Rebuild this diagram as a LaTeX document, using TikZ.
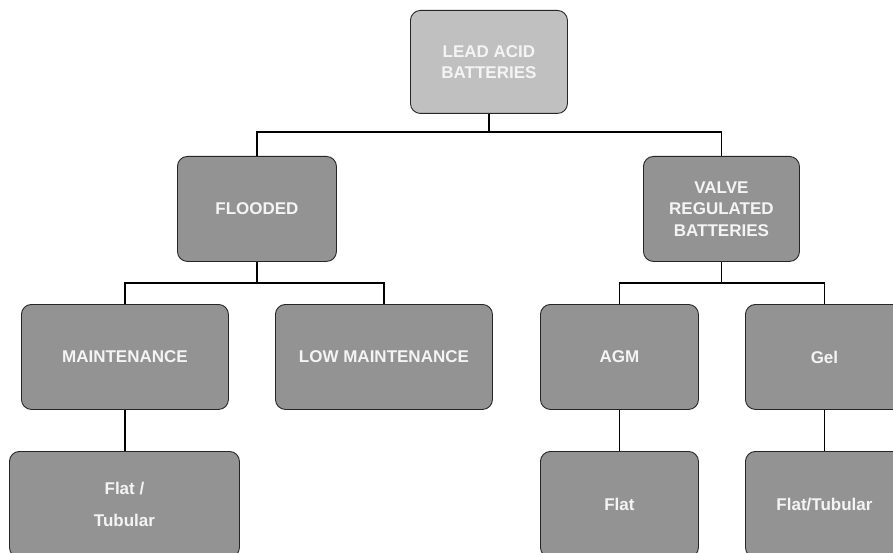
\documentclass[tikz,border=0pt]{standalone}
\usepackage{fontspec}
\newfontfamily\boxfont{Liberation Sans Bold}
\definecolor{topfill}{HTML}{C0C0C0}
\definecolor{boxfill}{HTML}{939393}
\definecolor{txt}{HTML}{F4F4F4}
\begin{document}
\begin{tikzpicture}[x=1pt,y=-1pt,
  box/.style={draw=black!85,line width=0.9pt,rounded corners=10pt,fill=boxfill,
    text=txt,font=\boxfont\fontsize{17}{21.5}\selectfont,align=center,anchor=north west,inner sep=0pt},
  link/.style={draw=black,line width=1.3pt}]
\useasboundingbox (0,0) rectangle (893,553);
\fill[white] (0,0) rectangle (893,553);
% boxes: (left,top) width height
\node[box,fill=topfill,minimum width=157pt,minimum height=103pt] (lab) at (410,10) {LEAD ACID\\BATTERIES};
\node[box,minimum width=159pt,minimum height=105pt] (fl) at (177,156) {FLOODED};
\node[box,minimum width=156pt,minimum height=105pt] (vr) at (643,156) {VALVE\\REGULATED\\BATTERIES};
\node[box,minimum width=207pt,minimum height=105pt] (mt) at (21,304) {MAINTENANCE};
\node[box,minimum width=217pt,minimum height=105pt] (lm) at (275,304) {LOW MAINTENANCE};
\node[box,minimum width=158pt,minimum height=105pt] (agm) at (540,304) {AGM};
\node[box,minimum width=158pt,minimum height=105pt] (gel) at (745,304) {Gel};
\node[box,minimum width=230pt,minimum height=106pt,font=\boxfont\fontsize{17}{32}\selectfont] (ft1) at (9,451) {Flat /\\Tubular};
\node[box,minimum width=158pt,minimum height=106pt] (flat) at (540,451) {Flat};
\node[box,minimum width=158pt,minimum height=106pt] (ft2) at (745,451) {Flat/Tubular};
% connectors
\coordinate (j1) at (lab.south |- 0,132);
\coordinate (j2) at (fl.south |- 0,283);
\coordinate (j3) at (vr.south |- 0,283);
\draw[link] (lab.south) -- (j1);
\draw[link] (fl.north) |- (j1) -| (vr.north);
\draw[link] (fl.south) -- (j2);
\draw[link] (mt.north) |- (j2) -| (lm.north);
\draw[link] (vr.south) -- (j3);
\draw[link] (agm.north) |- (j3) -| (gel.north);
\draw[link] (mt.south) -- (mt.south |- ft1.north);
\draw[link] (agm.south) -- (flat.north);
\draw[link] (gel.south) -- (ft2.north);
\end{tikzpicture}
\end{document}
